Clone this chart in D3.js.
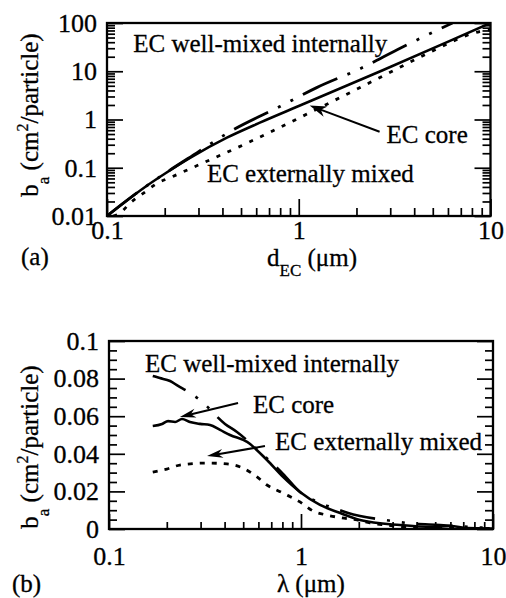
<!DOCTYPE html>
<html><head><meta charset="utf-8">
<script src="https://cdn.jsdelivr.net/npm/d3@7"></script>
<style>
html,body{margin:0;padding:0;background:#fff;}
text{font-family:"Liberation Serif","Times New Roman",serif;fill:#000;stroke:#000;stroke-width:0.3px;}
</style></head>
<body>
<script>
// ---------- Panel (a) data ----------
const dCore   = [0.1, 0.125, 0.158, 0.2, 0.271, 0.422, 0.627, 1.0, 2.74, 6.1, 10];
const bCore   = [0.01, 0.02, 0.040, 0.075, 0.16, 0.42, 0.86, 1.9, 10.5, 42, 100];
const dInt    = [0.1, 0.125, 0.158, 0.2, 0.294, 0.437, 0.796, 1.24, 2.15, 3.28, 6.34];
const bInt    = [0.01, 0.02, 0.040, 0.076, 0.204, 0.557, 1.85, 4.58, 11.9, 28.3, 100];
const dExt    = [0.108, 0.117, 0.132, 0.158, 0.184, 0.218, 0.249, 0.556, 1.14, 1.85, 2.98, 4.81, 8.77, 10];
const bExt    = [0.01, 0.0115, 0.0186, 0.0315, 0.0484, 0.0647, 0.082, 0.345, 1.38, 3.6, 9.4, 24.5, 66.6, 73];
const aYTicks = [0.01, 0.1, 1, 10, 100];
const aYLabels = ["0.01", "0.1", "1", "10", "100"];
const aXTicks = [0.1, 1, 10];
const aXLabels = ["0.1", "1", "10"];

// ---------- Panel (b) data ----------
const lCore = [0.169,0.189,0.203,0.221,0.240,0.264,0.298,0.336,0.379,0.427,0.524,0.665,0.806,0.988,1.256,1.60,2.03,3.28,4.87,6.0,7.32,9.9];
const vCore = [0.0548,0.0559,0.0574,0.0569,0.0585,0.0569,0.0559,0.0553,0.0527,0.050,0.0463,0.0367,0.0277,0.0197,0.0128,0.0085,0.0048,0.0021,0.0011,0.0016,0.0005,0.0003];
const lInt  = [0.169,0.184,0.208,0.229,0.255,0.298,0.402,0.464,0.611,0.806,0.988,1.256,1.54,1.76,2.03,2.74,3.56,5.3,7.6,9.9];
const vInt  = [0.0814,0.0803,0.0787,0.0761,0.0734,0.0686,0.0559,0.0516,0.041,0.0293,0.0197,0.0138,0.0106,0.0085,0.0069,0.0048,0.0032,0.0021,0.0011,0.0005];
const lExt  = [0.169,0.200,0.234,0.324,0.412,0.499,0.590,0.665,0.806,0.988,1.155,1.365,1.635,1.96,2.29,2.80,3.40,4.17,6.0,9.6];
const vExt  = [0.0303,0.0319,0.034,0.0351,0.0346,0.0324,0.0277,0.0234,0.0191,0.0144,0.0096,0.0074,0.0059,0.0048,0.0032,0.0021,0.0011,0.0005,0.0004,0.0003];
const bYTicks = [0, 0.02, 0.04, 0.06, 0.08, 0.1];
const bYLabels = ["0", "0.02", "0.04", "0.06", "0.08", "0.1"];
const bXTicks = [0.1, 1, 10];
const bXLabels = ["0.1", "1", "10"];

const W = 506, H = 598;
const svg = d3.select("body").append("svg").attr("width", W).attr("height", H);

const FS = 26;   // tick font size
const AFS = 25;  // annotation font size

function logMinor(lo, hi) {
  const out = [];
  for (let p = Math.log10(lo); p < Math.log10(hi); p++) {
    for (let k = 2; k <= 9; k++) out.push(k * Math.pow(10, p));
  }
  return out;
}

function axisG(axis, tx, ty) {
  const g = svg.append("g").attr("transform", `translate(${tx},${ty})`).call(axis);
  g.select(".domain").remove();
  g.selectAll("line").attr("stroke", "#000").attr("stroke-width", 1.7);
  g.selectAll("text").style("font-family", '"Liberation Serif",serif').style("font-size", FS + "px").attr("fill", "#000");
  return g;
}

function arrow(x1, y1, x2, y2, len, half) {
  const ang = Math.atan2(y2 - y1, x2 - x1);
  svg.append("line").attr("x1", x1).attr("y1", y1).attr("x2", x2 - Math.cos(ang) * len * 0.6).attr("y2", y2 - Math.sin(ang) * len * 0.6)
    .attr("stroke", "#000").attr("stroke-width", 2);
  const bx = x2 - Math.cos(ang) * len, by = y2 - Math.sin(ang) * len;
  const nx = -Math.sin(ang) * half, ny = Math.cos(ang) * half;
  const mx = x2 - Math.cos(ang) * len * 0.7, my = y2 - Math.sin(ang) * len * 0.7;
  svg.append("path").attr("d", `M${x2},${y2}L${bx + nx},${by + ny}L${mx},${my}L${bx - nx},${by - ny}Z`).attr("fill", "#000");
}

function yTitle(cx, cy) {
  const yt = svg.append("text").attr("transform", `translate(${cx},${cy}) rotate(-90)`).attr("text-anchor", "middle").style("font-size", AFS + "px");
  yt.append("tspan").text("b");
  yt.append("tspan").attr("dy", 11).style("font-size", "17px").text("a");
  yt.append("tspan").attr("dy", -11).text("  (cm");
  yt.append("tspan").attr("dy", -10).style("font-size", "16px").text("2");
  yt.append("tspan").attr("dy", 10).text("/particle)");
}

// ================= Panel (a) =================
{
  const x = d3.scaleLog().domain([0.1, 10]).range([107, 490.5]);
  const y = d3.scaleLog().domain([0.01, 100]).range([216, 23]);
  const L = x.range()[0], R = x.range()[1], T = y.range()[1], B = y.range()[0];

  axisG(d3.axisLeft(y).tickValues(aYTicks).tickSize(-16).tickPadding(10).tickFormat((d, i) => aYLabels[i]), L, 0);
  axisG(d3.axisLeft(y).tickValues(logMinor(0.01, 100)).tickSize(-8).tickFormat(""), L, 0);
  axisG(d3.axisRight(y).tickValues(aYTicks).tickSize(-16).tickFormat(""), R, 0);
  axisG(d3.axisRight(y).tickValues(logMinor(0.01, 100)).tickSize(-8).tickFormat(""), R, 0);
  axisG(d3.axisBottom(x).tickValues(aXTicks).tickSize(-17).tickPadding(5).tickFormat((d, i) => aXLabels[i]), 0, B);
  axisG(d3.axisBottom(x).tickValues(logMinor(0.1, 10)).tickSize(-8).tickFormat(""), 0, B);

  svg.append("rect").attr("x", L).attr("y", T).attr("width", R - L).attr("height", B - T)
    .attr("fill", "none").attr("stroke", "#000").attr("stroke-width", 2.3);

  svg.append("clipPath").attr("id", "clipA").append("rect")
    .attr("x", L).attr("y", T).attr("width", R - L).attr("height", B - T);

  const line = d3.line().x(d => x(d[0])).y(d => y(d[1])).curve(d3.curveMonotoneX);
  const gA = svg.append("g").attr("clip-path", "url(#clipA)");
  gA.append("path").attr("d", line(dExt.map((d, i) => [d, bExt[i]]))).attr("fill", "none").attr("stroke", "#000")
    .attr("stroke-width", 2.8).attr("stroke-dasharray", "4,8");
  gA.append("path").attr("d", line(dInt.map((d, i) => [d, bInt[i]]))).attr("fill", "none").attr("stroke", "#000")
    .attr("stroke-width", 2.8).attr("stroke-dasharray", "38,11,3,11,3,11");
  gA.append("path").attr("d", line(dCore.map((d, i) => [d, bCore[i]]))).attr("fill", "none").attr("stroke", "#000")
    .attr("stroke-width", 2.6);

  svg.append("text").attr("x", x(0.137)).attr("y", y(24.5)).style("font-size", AFS + "px").text("EC well-mixed internally");
  svg.append("text").attr("x", x(2.87)).attr("y", y(0.33)).style("font-size", AFS + "px").text("EC core");
  svg.append("text").attr("x", x(0.332)).attr("y", y(0.051)).style("font-size", AFS + "px").text("EC externally mixed");
  arrow(x(2.64), y(0.557), x(1.14), y(1.94), 17, 5.5);

  svg.append("text").attr("x", 21).attr("y", 265).style("font-size", AFS + "px").text("(a)");
  const xt = svg.append("text").attr("x", 267).attr("y", 266).style("font-size", AFS + "px");
  xt.append("tspan").text("d");
  xt.append("tspan").attr("dy", 10).style("font-size", "17px").text("EC");
  xt.append("tspan").attr("dy", -10).text(" (μm)");
  yTitle(38, 115);
}

// ================= Panel (b) =================
{
  const x = d3.scaleLog().domain([0.1, 10]).range([109, 493]);
  const y = d3.scaleLinear().domain([0, 0.1]).range([529, 341]);
  const L = x.range()[0], R = x.range()[1], T = y.range()[1], B = y.range()[0];
  const minorY = d3.range(0, 0.1001, 0.005).filter(v => Math.abs(v / 0.02 - Math.round(v / 0.02)) > 1e-6);

  axisG(d3.axisLeft(y).tickValues(bYTicks).tickSize(-16).tickPadding(10).tickFormat((d, i) => bYLabels[i]), L, 0);
  axisG(d3.axisLeft(y).tickValues(minorY).tickSize(-8).tickFormat(""), L, 0);
  axisG(d3.axisRight(y).tickValues(bYTicks).tickSize(-16).tickFormat(""), R, 0);
  axisG(d3.axisRight(y).tickValues(minorY).tickSize(-8).tickFormat(""), R, 0);
  axisG(d3.axisBottom(x).tickValues(bXTicks).tickSize(-15).tickPadding(18).tickFormat((d, i) => bXLabels[i]), 0, B);
  axisG(d3.axisBottom(x).tickValues(logMinor(0.1, 10)).tickSize(-7).tickFormat(""), 0, B);

  svg.append("rect").attr("x", L).attr("y", T).attr("width", R - L).attr("height", B - T)
    .attr("fill", "none").attr("stroke", "#000").attr("stroke-width", 2.3);

  svg.append("clipPath").attr("id", "clipB").append("rect")
    .attr("x", L).attr("y", T).attr("width", R - L).attr("height", B - T);

  const line = d3.line().x(d => x(d[0])).y(d => y(d[1])).curve(d3.curveMonotoneX);
  const gB = svg.append("g").attr("clip-path", "url(#clipB)");
  gB.append("path").attr("d", line(lExt.map((d, i) => [d, vExt[i]]))).attr("fill", "none").attr("stroke", "#000")
    .attr("stroke-width", 2.8).attr("stroke-dasharray", "5,7");
  gB.append("path").attr("d", line(lInt.map((d, i) => [d, vInt[i]]))).attr("fill", "none").attr("stroke", "#000")
    .attr("stroke-width", 2.6).attr("stroke-dasharray", "36,12,3,12,3,12");
  gB.append("path").attr("d", line(lCore.map((d, i) => [d, vCore[i]]))).attr("fill", "none").attr("stroke", "#000")
    .attr("stroke-width", 2.6);

  svg.append("text").attr("x", x(0.154)).attr("y", y(0.0835)).style("font-size", AFS + "px").text("EC well-mixed internally");
  svg.append("text").attr("x", x(0.562)).attr("y", y(0.0617)).style("font-size", AFS + "px").text("EC core");
  svg.append("text").attr("x", x(0.733)).attr("y", y(0.0420)).style("font-size", AFS + "px").text("EC externally mixed");
  arrow(x(0.470), y(0.0670), x(0.234), y(0.0596), 16, 4.5);
  arrow(x(0.649), y(0.0441), x(0.324), y(0.0388), 16, 4.5);

  svg.append("text").attr("x", 12).attr("y", 592).style("font-size", AFS + "px").text("(b)");
  svg.append("text").attr("x", 277).attr("y", 592).style("font-size", AFS + "px").text("λ (μm)");
  yTitle(38, 447);
}
</script>
</body></html>
